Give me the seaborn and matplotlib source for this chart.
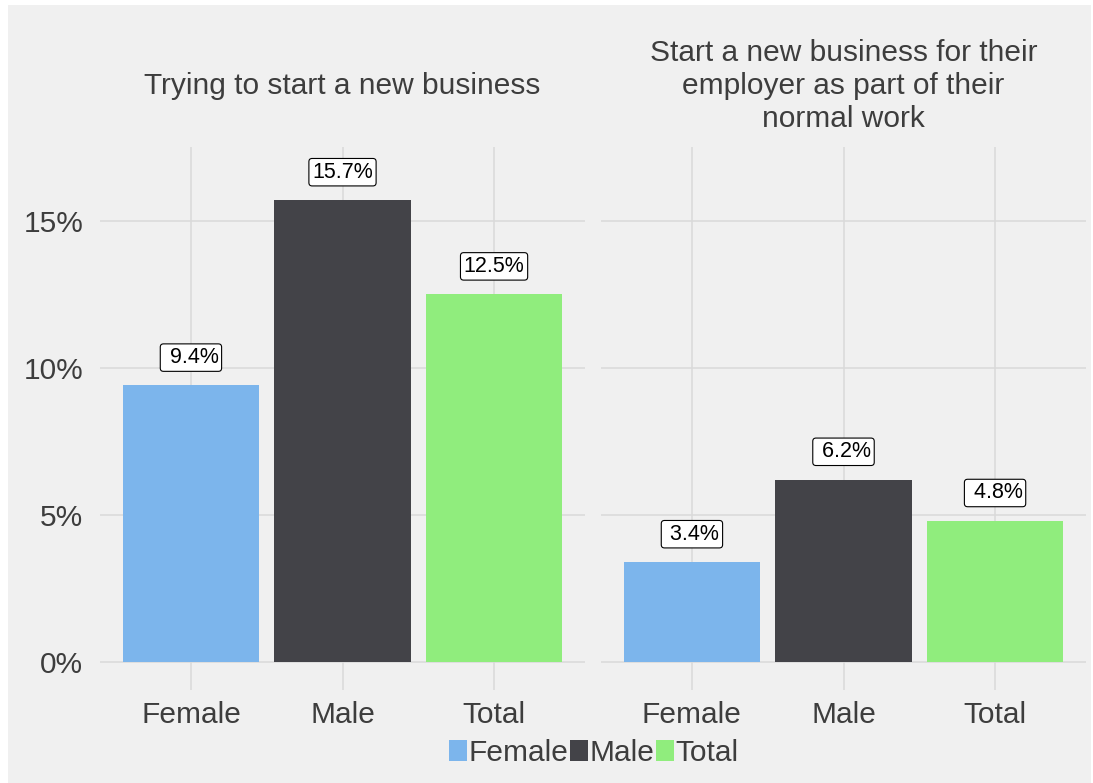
import matplotlib
matplotlib.use("Agg")
import matplotlib.pyplot as plt
from matplotlib.patches import Rectangle, Patch
import seaborn as sns
import pandas as pd

# Data
groups = ["Female", "Male", "Total"]
trying_values = [9.4, 15.7, 12.5]
employer_values = [3.4, 6.2, 4.8]
panel_titles = ["Trying to start a new business",
                "Start a new business for their\nemployer as part of their\nnormal work"]
colors = {"Female": "#7cb5ec", "Male": "#434348", "Total": "#90ed7d"}
y_ticks = [0, 5, 10, 15]
y_tick_labels = ["0%", "5%", "10%", "15%"]

sns.set_theme(style="whitegrid")
plt.rcParams["font.family"] = ["Liberation Sans", "DejaVu Sans"]

bg = "#f0f0f0"
grid_c = "#d9d9d9"
text_c = "#3d3d3d"
fs = 21.5

W, H = 1093, 783
fig = plt.figure(figsize=(W / 100, H / 100), dpi=100)
fig.patch.set_facecolor("white")
fig.add_artist(Rectangle((8 / W, 0), (1091 - 8) / W, (H - 5) / H,
                         transform=fig.transFigure, facecolor=bg,
                         edgecolor="none", zorder=-10))

ax_bottom = 1 - 690 / H
ax_height = (690 - 147) / H
ax_w = 485 / W
positions = [100 / W, 601 / W]

for k, (vals, title) in enumerate(zip([trying_values, employer_values], panel_titles)):
    ax = fig.add_axes([positions[k], ax_bottom, ax_w, ax_height])
    df = pd.DataFrame({"group": groups, "value": vals})
    sns.barplot(data=df, x="group", y="value", hue="group", palette=colors,
                order=groups, hue_order=groups, width=0.9, legend=False,
                saturation=1, linewidth=0, ax=ax, zorder=3)
    ax.set_facecolor(bg)
    ax.set_xlim(-0.6, 2.6)
    ax.set_ylim(-0.95, 17.5)
    ax.set_yticks(y_ticks)
    ax.grid(True, color=grid_c, linewidth=1.1, zorder=0)
    ax.set_axisbelow(True)
    for s in ax.spines.values():
        s.set_visible(False)
    ax.set_xlabel("")
    ax.set_ylabel("")
    ax.tick_params(axis="both", length=0, labelsize=fs, labelcolor=text_c)
    ax.tick_params(axis="x", pad=8)
    ax.tick_params(axis="y", pad=12)
    if k == 0:
        ax.set_yticklabels(y_tick_labels)
    else:
        ax.set_yticklabels([])
    for i, v in enumerate(vals):
        ax.annotate(f"{v:4.1f}%", (i, v), xytext=(0, 20), textcoords="offset points",
                    ha="center", va="center", fontsize=15.5, color="black",
                    bbox=dict(boxstyle="round,pad=0.15,rounding_size=0.15",
                              fc="white", ec="black", lw=0.8), zorder=5)
    ax.text(0.5, 1 + (147 - 86) / (690 - 147), title, transform=ax.transAxes,
            ha="center", va="center", fontsize=fs, color=text_c,
            linespacing=1.22)

handles = [Patch(facecolor=colors[g], edgecolor="none", label=g) for g in groups]
leg = fig.legend(handles=handles, loc="center", ncol=3,
                 bbox_to_anchor=(594 / W, 1 - 753 / H), frameon=False,
                 fontsize=fs, handlelength=0.6, handleheight=0.7,
                 handletextpad=0.05, columnspacing=0.05, labelcolor=text_c)

fig.savefig("out.png", dpi=100, facecolor=fig.get_facecolor())
